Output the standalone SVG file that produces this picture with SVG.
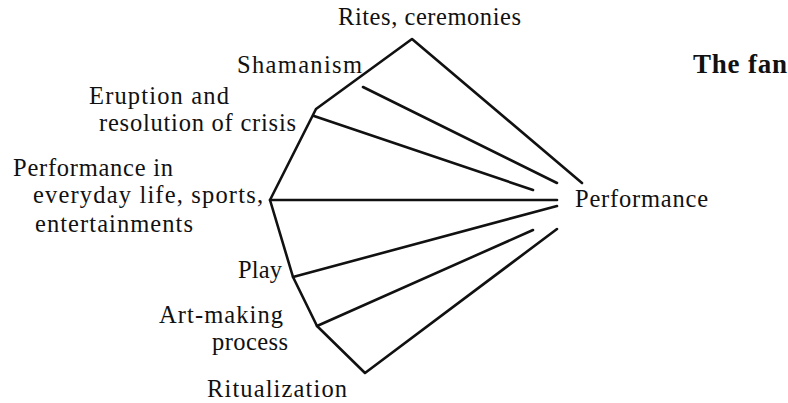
<svg xmlns="http://www.w3.org/2000/svg" width="788" height="403" viewBox="0 0 788 403">
<style>
.lbl{font-family:"Liberation Serif","Times New Roman",serif;font-size:24.5px;fill:#111}
.ttl{font-family:"Liberation Serif","Times New Roman",serif;font-size:27px;font-weight:bold;fill:#111}
.ln{stroke:#111;stroke-width:2.6;fill:none;stroke-linecap:round;stroke-linejoin:round}
</style>
<rect width="788" height="403" fill="#fff"/>
<g id="connectors">
<polyline class="ln" points="582,183 412,39 316,109 270,200 293,277 317,326 365,373 557,229"/>
<line class="ln" x1="363" y1="87" x2="557" y2="183"/>
<line class="ln" x1="314" y1="116" x2="533" y2="190"/>
<line class="ln" x1="270" y1="200" x2="557" y2="200"/>
<line class="ln" x1="293" y1="277" x2="557" y2="206"/>
<line class="ln" x1="317" y1="326" x2="533" y2="230"/>
</g>
<g id="title"><text class="ttl" x="693" y="73" textLength="94">The fan</text></g>
<g id="rites"><text class="lbl" x="338" y="25" textLength="183">Rites, ceremonies</text></g>
<g id="shamanism"><text class="lbl" x="237" y="73" textLength="125">Shamanism</text></g>
<g id="eruption">
<text class="lbl" x="89" y="104" textLength="140">Eruption and</text>
<text class="lbl" x="99" y="131" textLength="197">resolution of crisis</text>
</g>
<g id="everyday">
<text class="lbl" x="13" y="176" textLength="160">Performance in</text>
<text class="lbl" x="33" y="203" textLength="230">everyday life, sports,</text>
<text class="lbl" x="35" y="232" textLength="158">entertainments</text>
</g>
<g id="performance"><text class="lbl" x="575" y="207" textLength="133">Performance</text></g>
<g id="play"><text class="lbl" x="238" y="278" textLength="44">Play</text></g>
<g id="artmaking">
<text class="lbl" x="159" y="323" textLength="124">Art-making</text>
<text class="lbl" x="212" y="350" textLength="76">process</text>
</g>
<g id="ritualization"><text class="lbl" x="207" y="397" textLength="140">Ritualization</text></g>
</svg>
